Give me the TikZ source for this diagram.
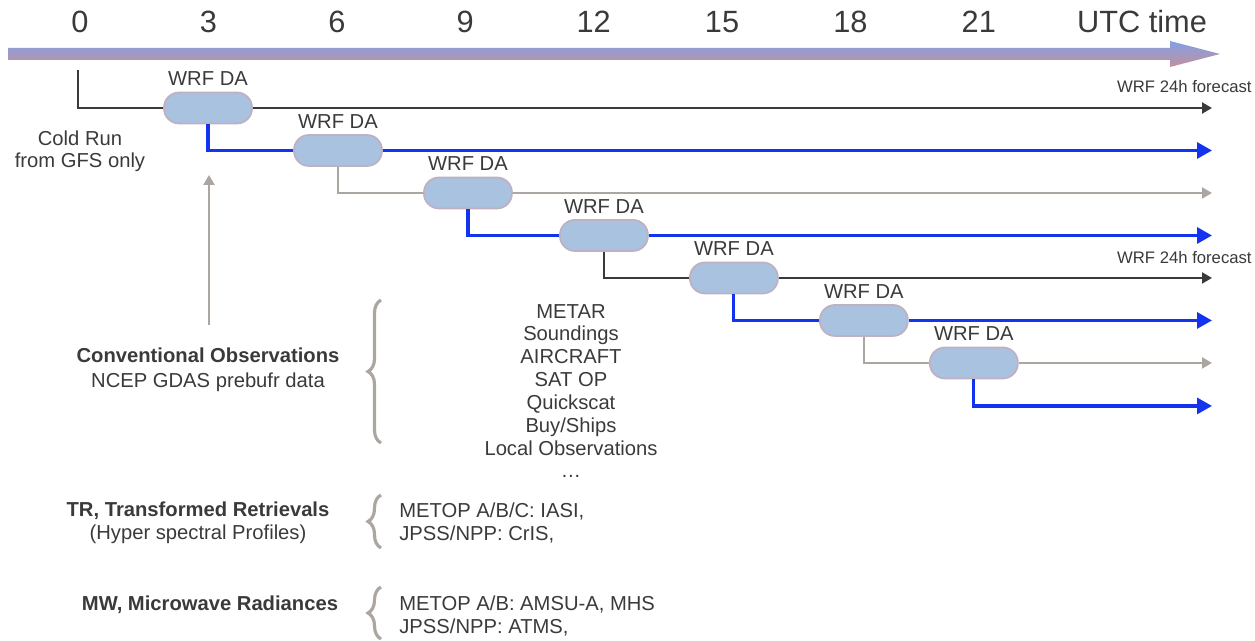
\documentclass[tikz,border=0pt]{standalone}
\usepackage{fontspec}
\setmainfont{Liberation Sans}
\usetikzlibrary{positioning,arrows.meta,decorations.pathreplacing}
\definecolor{dafill}{HTML}{A8C2E0}
\definecolor{daedge}{HTML}{BFB0C2}
\definecolor{runblue}{HTML}{1433EE}
\definecolor{rungray}{HTML}{ABA69F}
\definecolor{runblack}{HTML}{3A3A3A}
\definecolor{txtgray}{HTML}{3A3A3A}
\definecolor{bartop}{HTML}{82A0E2}
\definecolor{barbot}{HTML}{C2909F}

\begin{document}
\begin{tikzpicture}[x=0.02cm,y=-0.02cm,node distance=0.85cm and 2.6cm,on grid,
	da/.style={draw=daedge,fill=dafill,line width=1pt,rounded corners=0.3cm,
		minimum width=1.76cm,minimum height=0.62cm,inner sep=0pt},
	dalabel/.style={text=txtgray,font=\fontsize{11.5}{13}\selectfont,inner sep=1pt},
	txt/.style={text=txtgray,font=\fontsize{11.5}{13}\selectfont,align=center,inner sep=0pt},
	tick/.style={text=txtgray,font=\fontsize{17.5}{20}\selectfont,inner sep=0pt},
	fc/.style={text=txtgray,font=\fontsize{9.5}{11}\selectfont,inner sep=0pt,anchor=east},
	blackrun/.style={draw=runblack,line width=1.2pt},
	grayrun/.style={draw=rungray,line width=1.2pt},
	bluerun/.style={draw=runblue,line width=1.8pt},
	smalltip/.style={-{Triangle[length=0.2cm,width=0.22cm]}},
	bigtip/.style={-{Triangle[length=0.3cm,width=0.32cm]}},
	brace/.style={draw=rungray,line width=1.8pt,decorate,
		decoration={brace,amplitude=0.26cm}}]
	\useasboundingbox (0,0) rectangle (1255,641);

	% time axis
	\shade[top color=bartop,bottom color=barbot]
		(8,48) -- (1170,48) -- (1170,41) -- (1220,54) -- (1170,67) -- (1170,60) -- (8,60) -- cycle;
	\foreach \h [count=\i from 0] in {0,3,...,21}
		\node[tick] (t\h) at (80+128.4*\i,22) {\h};
	\node[tick] (utc) at (1142,22) {UTC time};

	% assimilation cycles
	\node[da] (da1) at (208,108) {};
	\node[da] (da2) [below right=of da1] {};
	\node[da] (da3) [below right=of da2] {};
	\node[da] (da4) [below right=0.85cm and 2.72cm of da3] {};
	\node[da] (da5) [below right=of da4] {};
	\node[da] (da6) [below right=of da5] {};
	\node[da] (da7) [below right=0.85cm and 2.2cm of da6] {};
	\foreach \n in {1,...,7}
		\node[dalabel,anchor=south] (l\n) at ([yshift=2pt]da\n.north) {WRF DA};

	\coordinate (start) at (78,70);
	\coordinate (tip) at (1212,0);
	\foreach \n in {1,...,7}
		\coordinate (e\n) at (da\n -| tip);

	\draw[blackrun] (start) |- (da1.west);
	\draw[blackrun,smalltip] (da1) -- (e1);
	\draw[bluerun] (da1.south) |- (da2.west);
	\draw[bluerun,bigtip] (da2) -- (e2);
	\draw[grayrun] (da2.south) |- (da3.west);
	\draw[grayrun,smalltip] (da3) -- (e3);
	\draw[bluerun] (da3.south) |- (da4.west);
	\draw[bluerun,bigtip] (da4) -- (e4);
	\draw[blackrun] (da4.south) |- (da5.west);
	\draw[blackrun,smalltip] (da5) -- (e5);
	\draw[bluerun] (da5.south) |- (da6.west);
	\draw[bluerun,bigtip] (da6) -- (e6);
	\draw[grayrun] (da6.south) |- (da7.west);
	\draw[grayrun,smalltip] (da7) -- (e7);
	\coordinate (e8) at ([yshift=-0.86cm]e7);
	\draw[bluerun,bigtip] (da7.south) |- (e8);

	\node[fc] (fc1) at (1252,87) {WRF 24h forecast};
	\node[fc] (fc2) at (1252,258) {WRF 24h forecast};
	\node[txt,font=\fontsize{11.5}{12.5}\selectfont] (cold) at (80,151) {Cold Run\\from GFS only};

	% observations
	\coordinate (obs) at (209,325);
	\coordinate (obstop) at (209,175);
	\draw[grayrun,smalltip] (obs) -- (obstop);

	\node[txt,font=\fontsize{11.5}{14}\selectfont] (conv) at (208,370)
		{\textbf{Conventional Observations}\\NCEP GDAS prebufr data};
	\draw[brace] (381,443) -- (381,300);
	\node[txt] (convlist) at (571,391)
		{METAR\\Soundings\\AIRCRAFT\\SAT OP\\Quickscat\\Buy/Ships\\Local Observations\\…};

	\node[txt] (tr) at (198,523)
		{\textbf{TR, Transformed Retrievals}\\(Hyper spectral Profiles)};
	\draw[brace] (381,548) -- (381,495);
	\node[txt,align=left,anchor=west] (trlist) at (399,523)
		{METOP A/B/C: IASI,\\JPSS/NPP: CrIS,};

	\node[txt] (mw) at (210,605) {\textbf{MW, Microwave Radiances}};
	\draw[brace] (381,639) -- (381,587);
	\node[txt,align=left,anchor=west] (mwlist) at (399,616)
		{METOP A/B: AMSU-A, MHS\\JPSS/NPP: ATMS,};
\end{tikzpicture}
\end{document}
